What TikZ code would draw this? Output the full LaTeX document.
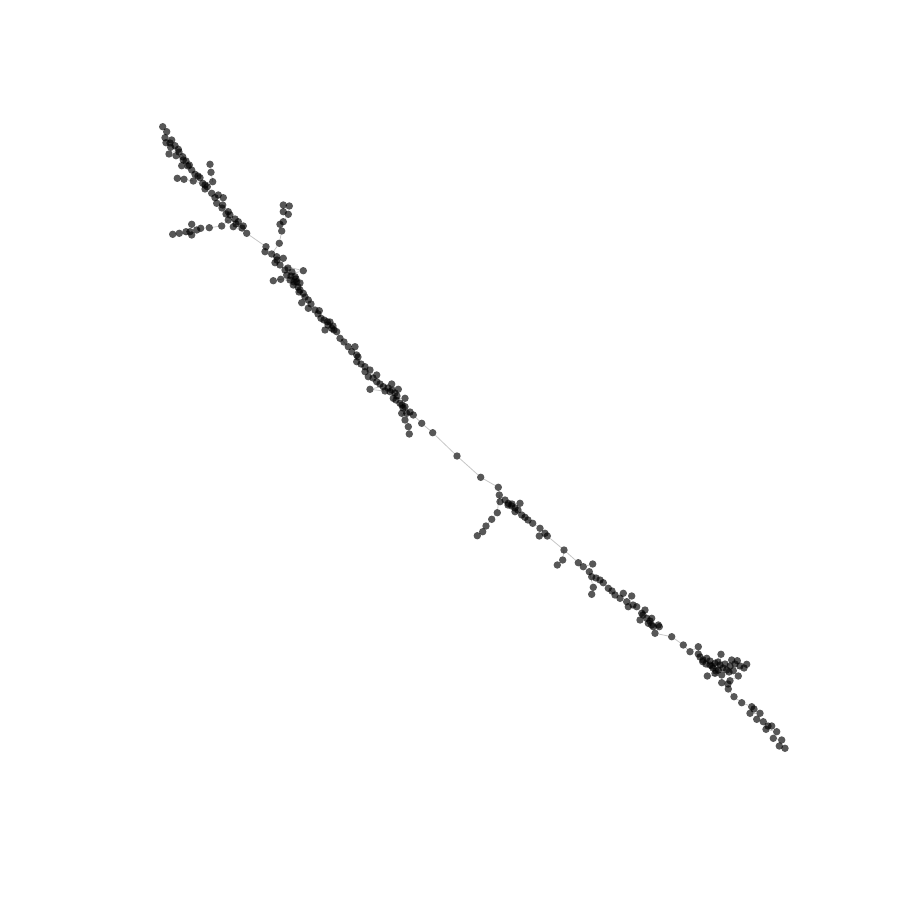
\documentclass[tikz,border=0pt]{standalone}
\pgfdeclarelayer{bg}
\pgfsetlayers{bg,main}
\tikzset{
  dot/.style={circle,fill=black,fill opacity=0.66,draw=none,inner sep=0pt,minimum size=7.4pt},
  link/.style={draw=black!22,line width=0.8pt}
}
\newcommand\mainchain[2]{%
  \foreach \x/\y [count=\i, remember=\i as \j (initially 0)] in {#2} {
    \node[dot] (#1\i) at (\x,\y) {};
    \ifnum\i>1
      \begin{pgfonlayer}{bg}\draw[link] (#1\j) -- (#1\i);\end{pgfonlayer}
    \fi
  }}
\newcommand\branchchain[3]{%
  \foreach \x/\y [count=\i, remember=\i as \j (initially 0)] in {#3} {
    \node[dot] (#1\i) at (\x,\y) {};
    \ifnum\i>1
      \begin{pgfonlayer}{bg}\draw[link] (#1\j) -- (#1\i);\end{pgfonlayer}
    \else
      \begin{pgfonlayer}{bg}\draw[link] (#2) -- (#1\i);\end{pgfonlayer}
    \fi
  }}
\begin{document}
\begin{tikzpicture}[x=1pt,y=-1pt]
\useasboundingbox (0,0) rectangle (900,900);
% junctions
\coordinate (jA) at (228.3,220);
\coordinate (jB) at (193.3,181);
\coordinate (jC) at (212.7,181.7);
\coordinate (jD) at (271.7,254);
\coordinate (jE) at (499.3,495);
\coordinate (jF) at (564,550);
\coordinate (jG) at (589.3,571.7);
\coordinate (jH) at (401.7,413.3);
% main backbone
\mainchain{m}{162.7/126.7,166.7/131.7,165/137.7,171.7/140,166/142.7,175/145.7,170.7/147.3,178.3/149.3,169/154,176/155.7,182.7/156.7,183.3/160,186/161,189.3/165,181.7/165.7,191.7/170,195/174.3,200/177.7,193.3/181,202.7/183.3,212.7/181.7,207.3/186.7,205/189,211.7/193.3,218.3/195,215/197.7,223.3/197.7,216.7/203.3,222.7/205,228.3/211.7,230/215,235/219,228.3/220,238.3/221.7,243.3/226,233.3/226.7,246.7/233.3,
266/246.7,265/251.7,271.7/254,276.7/256.7,283.3/258.3,275/262.7,280/265,303.3/270.7,286.7/275,295/276.7,273.3/280.7,280.7/279.3,296.7/281.7,293.3/285,300/290,303.3/293.3,308.3/300,301.7/302.7,308.3/308.3,315/310,319.3/310.7,321/318.3,327.3/321.7,331.7/328.3,325/330,336.7/331.7,340/338.3,348.3/346.7,355/346.7,351.7/351.7,356.7/355,356.7/361.7,365/366.7,370/370,365/371.7,376.7/375,368.3/376.7,376.7/381.7,383.3/386.7,391.7/384,370/389.3,390/391.7,398.3/389.3,393.3/398.3,405/398.3,400/403.3,405/406.7,406.7/413.3,401.7/413.3,413.3/415,421.7/423.3,432.7/432.7,457/456,
480.7/477.3,498.3/487.3,499.3/495,500/501.7,508.3/503.3,511.7/506,520/503.3,515/511.7,521.7/515,525/517.3,532.7/523.3,540/528.3,545/533.3,539.3/536,547.3/536,564/550,578.3/562.7,583.3/566.7,592.7/564,589.3/571.7,591.7/576.7,600/580,603.3/582.7,608.3/588.3,615/595,623.3/593.3,620/598.3,626.7/601.7,631.7/596,628.3/606.7,636.7/606.7,641.7/613.3,645/610,640/620,646.7/618.3,651.7/618.3,648.3/623.3,653.3/626.7,658.3/625,651.7/625,659.3/626.7,655/633.3,
671.7/636.7,683.3/645,690/651.7,698.3/646.7,698.3/654,706.7/658.3,702.7/661.7,710/665,715/663.3,721/654.3,718.3/670,715/673.3,707.3/676,721.7/675,726.7/670,731.7/660,730/666,737.3/660.7,740/666,746.7/664.3,733.3/670.7,738.3/676,730/680.7,721.7/682.7,728.3/689,734/696.7,741.7/702.7,751.7/706.7,750/713.3,760/713.3,756.7/719.3,763.3/721.7,771.7/726,766/729.3,776.7/731.7,773.3/738.3,781.7/740,779.3/746,785/748.3}
% branches
\branchchain{a}{jA}{221.7/226,209.3/227.7,200.7/228.3,196.7/230,191.7/224.3,190/231.7,186/231.7,191.7/235,179.3/233.3,172.7/234.3}
\branchchain{b}{jB}{184/179.3,177.3/178.3}
\branchchain{c}{jC}{211/172.3,210/164.3}
\branchchain{d}{jD}{279.3/243.3,281.7/231,280/224.3,283.3/221.7,288.3/214.3,283.3/211.7,289.3/206,283.3/205}
\branchchain{e}{jE}{497.3/512.7,491.7/519.3,486/526,482.7/531.7,477.3/535.7}
\branchchain{f}{jF}{562.7/560,557.3/565}
\branchchain{g}{jG}{593.3/587.3,591.7/594.3}
\branchchain{h}{jH}{405/420,408.3/426.7,409.3/434}
% extra dots in dense clusters
\foreach \x/\y [count=\i] in {285/270,290/280,298/287,292/272,330/322,333/326,358/357,388/388,395/393,403/408,385/391,508/505,515/508,703/660,710/661,713/668,720/665,725/664,300/283,170/143,179/152,205/185,222/208,242/228,277/260,296/279,328/325,397/396,512/504,712/666,718/662,
288/268,291/276,294/282,299/292,305/297,311/304,318/314,324/320,334/330,344/342,361/364,373/378,380/384,392/390,396/400,402/405,410/412,
198/176,188/166,226/214,236/224,505/500,518/510,528/520,596/578,612/591,633/605,643/615,650/621,700/657,706/664,716/671,723/668,729/672,735/664,744/668,728/684,754/709,768/726}
  \node[dot] (x\i) at (\x,\y) {};
\end{tikzpicture}
\end{document}
